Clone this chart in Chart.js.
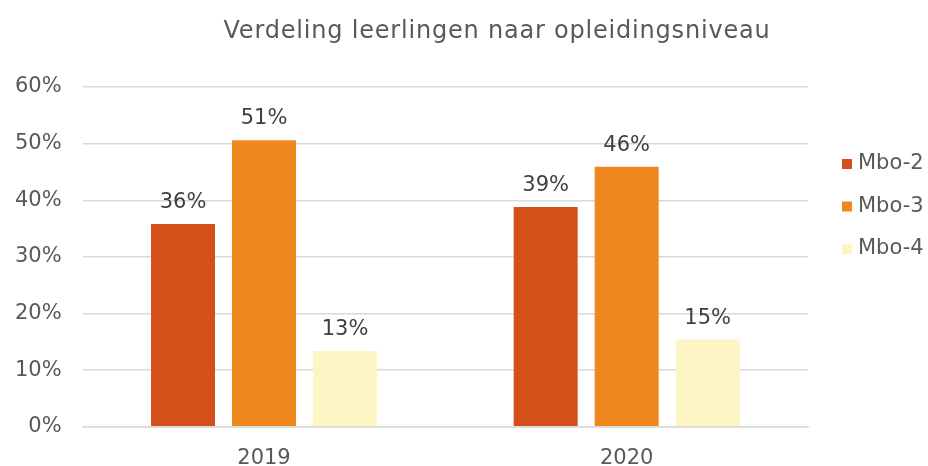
<!DOCTYPE html>
<html>
<head>
<meta charset="utf-8">
<script src="https://cdn.jsdelivr.net/npm/chart.js@4/dist/chart.umd.min.js"></script>
<style>
  html, body { margin: 0; padding: 0; background: #fff; }
  #wrap { width: 928px; height: 466px; }
</style>
</head>
<body>
<div id="wrap"><canvas id="chart"></canvas></div>
<script>
// gegevens
const jaren = ['2019', '2020'];
const niveaus = ['Mbo-2', 'Mbo-3', 'Mbo-4'];
const mbo2 = [35.8, 38.8];
const mbo3 = [50.6, 45.9];
const mbo4 = [13.4, 15.4];
const yTicks = [0, 10, 20, 30, 40, 50, 60];
const kleuren = ['#D4501A', '#EF881F', '#FDF5C3'];

const tekstKleur = '#595959';
const font = 'DejaVu Sans, Verdana, sans-serif';

// labels boven de staven
const labelPlugin = {
  id: 'barLabels',
  afterDatasetsDraw(chart) {
    const ctx = chart.ctx;
    ctx.save();
    ctx.font = '21px ' + font;
    ctx.fillStyle = '#404040';
    ctx.textAlign = 'center';
    ctx.textBaseline = 'bottom';
    chart.data.datasets.forEach((ds, i) => {
      chart.getDatasetMeta(i).data.forEach((bar, j) => {
        ctx.fillText(Math.round(ds.data[j]) + '%', bar.x, bar.y - 11);
      });
    });
    ctx.restore();
  }
};

// titel en legenda
const titelPlugin = {
  id: 'titel',
  afterDraw(chart) {
    const ctx = chart.ctx;
    ctx.save();
    ctx.font = '24px ' + font;
    ctx.letterSpacing = '0.8px';
    ctx.fillStyle = tekstKleur;
    ctx.textAlign = 'center';
    ctx.textBaseline = 'middle';
    ctx.fillText('Verdeling leerlingen naar opleidingsniveau', 497, 32);

    const x = chart.chartArea.right + 34;
    ctx.font = '21px ' + font;
    ctx.letterSpacing = '0px';
    ctx.textAlign = 'left';
    chart.data.datasets.forEach((ds, i) => {
      const y = 164 + i * 42.5;
      ctx.fillStyle = ds.backgroundColor;
      ctx.fillRect(x, y - 5, 10, 10);
      ctx.fillStyle = tekstKleur;
      ctx.fillText(ds.label, x + 16, y);
    });
    ctx.restore();
  }
};

new Chart(document.getElementById('chart'), {
  type: 'bar',
  data: {
    labels: jaren,
    datasets: [
      { label: niveaus[0], data: mbo2, backgroundColor: kleuren[0] },
      { label: niveaus[1], data: mbo3, backgroundColor: kleuren[1] },
      { label: niveaus[2], data: mbo4, backgroundColor: kleuren[2] }
    ]
  },
  options: {
    responsive: true,
    maintainAspectRatio: false,
    animation: false,
    layout: { padding: { top: 87, left: -6, right: 120, bottom: -24 } },
    datasets: { bar: { categoryPercentage: 0.67, barPercentage: 0.79 } },
    plugins: {
      tooltip: { enabled: false },
      title: { display: false },
      legend: { display: false }
    },
    scales: {
      x: {
        grid: { display: false, drawTicks: false },
        border: { color: '#d9d9d9', width: 1.5 },
        ticks: { color: tekstKleur, padding: 19, font: { family: font, size: 21 } }
      },
      y: {
        min: 0,
        max: 60,
        afterBuildTicks: axis => { axis.ticks = yTicks.map(v => ({ value: v })); },
        grid: { color: '#d9d9d9', lineWidth: 1.5, drawTicks: false },
        border: { display: false },
        ticks: {
          color: tekstKleur,
          padding: 21,
          font: { family: font, size: 21 },
          callback: v => v + '%'
        }
      }
    }
  },
  plugins: [labelPlugin, titelPlugin]
});
</script>
</body>
</html>
